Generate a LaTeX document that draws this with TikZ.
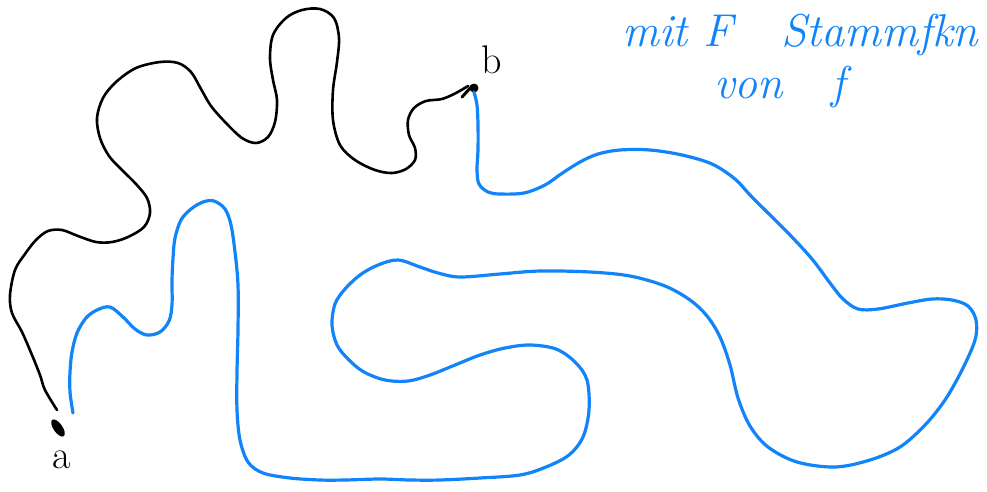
\documentclass[tikz,border=0pt]{standalone}
\usepackage{fontspec}
\definecolor{penblue}{RGB}{18,132,250}
\begin{document}
\begin{tikzpicture}[x=1pt,y=-1pt,
  blackpen/.style={line width=2.6pt,black,line cap=round,line join=round},
  bluepen/.style={line width=3.2pt,penblue,line cap=round,line join=round},
  lbl/.style={inner sep=0pt,font=\fontsize{40}{44}\selectfont},
  note/.style={inner sep=0pt,text=penblue,font=\fontsize{46}{50}\selectfont\itshape}]
\useasboundingbox (0,0) rectangle (987,491);
\coordinate (a) at (57,410);
\coordinate (b) at (474,88);
% black path from a to b
\draw[blackpen] plot[smooth,tension=0.55] coordinates {
 (57,410) (45,390) (40,375) (32,355) (22,332) (12,313) (10,295) (15,270) (25,254)
 (36,240) (48,231) (62,230) (78,236) (96,242) (112,242) (128,237) (144,227) (150,213)
 (147,198) (136,184) (122,170) (109,156) (100,138) (97,118) (103,98) (116,82) (136,68)
 (160,62) (178,63) (191,72) (201,89) (211,106) (226,123) (242,138) (256,143) (268,137)
 (275,122) (277,100) (273,80) (270,58) (273,35) (286,18) (302,10) (320,9) (334,18)
 (339,38) (337,62) (333,90) (333,120) (340,145) (355,160) (375,170) (392,173)
 (406,169) (415,160) (415,148) (409,135) (408,120) (414,108) (426,101) (442,99)
 (456,93) (468,86)};
\fill[black,rotate around={-55:(58,428)}] (58,428) ellipse (10 and 4.5);
\fill[black] (b) circle (4.5);
\draw[black,line width=3pt,line cap=round] (462,97) -- (472,86);
% blue path from a to b
\draw[bluepen] plot[smooth,tension=0.55] coordinates {
 (73,413) (70,392) (70,372) (72,352) (77,333) (86,318) (97,310) (110,307) (123,317)
 (135,329) (147,335) (160,332) (169,321) (172,305) (172,280) (173,258) (175,238)
 (181,220) (191,209) (203,202) (214,201) (225,209) (231,225) (235,252) (238,285)
 (238,330) (237,372) (237,410) (240,440) (248,462) (263,473) (290,478) (320,480)
 (345,480) (380,479) (410,480) (440,480) (480,478) (520,475) (546,467) (569,455)
 (583,437) (589,410) (587,380) (575,362) (556,349) (530,345) (505,348) (480,355)
 (455,365) (430,375) (408,381) (385,380) (364,372) (349,360) (337,345) (332,325)
 (335,304) (345,289) (360,275) (378,265) (398,260) (420,267) (438,273) (460,277)
 (500,274) (540,271) (590,272) (630,276) (665,286) (690,300) (707,316) (720,337)
 (730,365) (738,398) (750,426) (768,447) (797,462) (835,467) (870,460) (900,447)
 (925,425) (945,400) (962,370) (975,340) (976,320) (968,306) (952,300) (932,299)
 (908,303) (878,309) (858,309) (843,299) (830,283) (812,259) (790,235) (767,212)
 (750,195) (735,179) (712,164) (682,155) (650,150) (620,150) (598,154) (580,162)
 (561,174) (545,185) (524,193) (500,194) (488,192) (479,184) (477,170) (478,150)
 (478,125) (477,105) (474,92)};
% labels
\node[lbl,anchor=base] (la) at (62,468) {a};
\node[lbl,anchor=base] (lb) at (492,73) {b};
\node[note,anchor=base west] (n1) at (622,46) {mit F \ \ Stammfkn};
\node[note,anchor=base west] (n2) at (714,98) {von \ \ f};
\end{tikzpicture}
\end{document}
